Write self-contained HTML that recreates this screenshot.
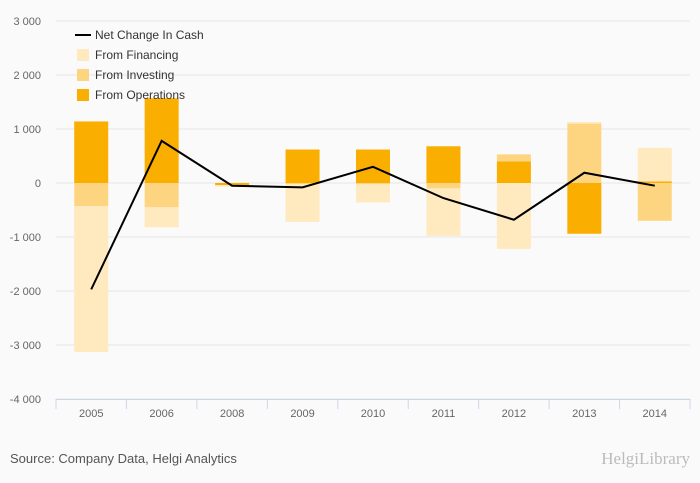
<!DOCTYPE html>
<html><head><meta charset="utf-8"><style>
body{margin:0;background:#fafafa;font-family:"Liberation Sans",sans-serif}
svg{display:block}
</style></head><body>
<svg id="c" width="700" height="483" xmlns="http://www.w3.org/2000/svg"></svg>
<script>
const categories=["2005","2006","2008","2009","2010","2011","2012","2013","2014"];
const operations=[1140,1570,-40,620,620,680,400,-940,30];
const investing=[-430,-450,0,-20,-20,-100,130,1100,-700];
const financing=[-2700,-370,-30,-700,-340,-880,-1220,30,620];
const netChange=[-1970,780,-50,-80,300,-280,-680,190,-50];
const yTicks=[3000,2000,1000,0,-1000,-2000,-3000,-4000];
const tickLabels=["3 000","2 000","1 000","0","-1 000","-2 000","-3 000","-4 000"];

const svg=document.getElementById('c');
const NS="http://www.w3.org/2000/svg";
const X0=56,X1=690,Y0=183,PX=0.054;
const band=(X1-X0)/categories.length;
function y(v){return Y0-v*PX;}
function xc(i){return X0+band*(i+0.5);}
function mk(t,a){const e=document.createElementNS(NS,t);for(const k in a)e.setAttribute(k,a[k]);svg.appendChild(e);return e;}

yTicks.forEach((v,i)=>{
  const g=mk('line',{x1:X0,x2:X1,y1:y(v),y2:y(v),stroke:'#e6e6e6','stroke-width':1});
  
  
  const t=mk('text',{x:41,y:y(v)+4,'text-anchor':'end','font-size':11,fill:'#666'});
  t.textContent=tickLabels[i];
  
  
});
const ax=mk('line',{x1:X0,x2:X1,y1:399.5,y2:399.5,stroke:'#ccd6eb'});


for(let i=0;i<=categories.length;i++){
  const tk=mk('line',{x1:X0+band*i,x2:X0+band*i,y1:399,y2:409,stroke:'#ccd6eb'});
  
  
}
categories.forEach((c,i)=>{
  const t=mk('text',{x:xc(i),y:417,'text-anchor':'middle','font-size':11,fill:'#666'});
  t.textContent=c;
  
  
});
const series=[[operations,'#f9ae00','operations'],[investing,'#fdd580','investing'],[financing,'#ffe9bf','financing']];
categories.forEach((c,i)=>{
  let pos=0,neg=0;
  series.forEach(([arr,col,nm])=>{
    const v=arr[i];let a,b;
    if(v>=0){a=pos;b=pos+v;pos=b;}else{a=neg;b=neg+v;neg=b;}
    const r=mk('rect',{x:xc(i)-17,width:34,y:Math.min(y(a),y(b)),height:Math.abs(y(a)-y(b)),fill:col});
    
    
  });
});
const pl=mk('polyline',{points:netChange.map((v,i)=>xc(i)+','+y(v)).join(' '),fill:'none',stroke:'#000','stroke-width':2});


const leg=[['Net Change In Cash',null],['From Financing','#ffe9bf'],['From Investing','#fdd580'],['From Operations','#f9ae00']];
leg.forEach(([l,col],i)=>{
  const yy=35+i*20;
  if(col){const r=mk('rect',{x:77,y:yy-6,width:12,height:12,fill:col});
    
    }
  else{const r=mk('line',{x1:75,x2:91,y1:yy,y2:yy,stroke:'#000','stroke-width':2});
    
    }
  const t=mk('text',{x:95,y:yy+4,'font-size':12,fill:'#333'});
  t.textContent=l;
  
  
});
const s=mk('text',{x:10,y:463,'font-size':13,fill:'#555'});
s.textContent='Source: Company Data, Helgi Analytics';


const h=mk('text',{x:690,y:464,'text-anchor':'end','font-size':17,fill:'#bbb','font-family':'Liberation Serif, serif'});
h.textContent='HelgiLibrary';


</script>
</body></html>
